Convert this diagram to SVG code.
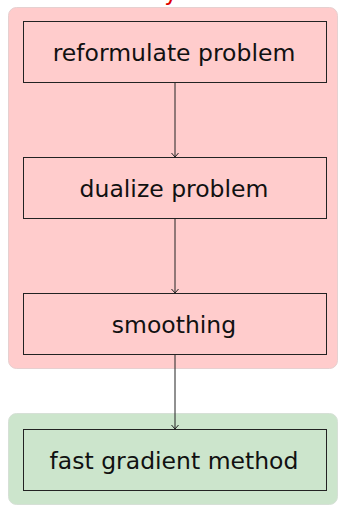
<svg xmlns="http://www.w3.org/2000/svg" width="339" height="505" viewBox="0 0 339 505">
<style>
.bg-red{fill:#ffcccc;stroke:#e6d0d0;stroke-width:1}
.bg-green{fill:#cce5cc;stroke:#d6e0d6;stroke-width:1}
.box{stroke:#222;stroke-width:1}
.lbl{font-family:"DejaVu Sans",sans-serif;font-size:23.5px;fill:#111;text-anchor:middle}
.edge{stroke:#222;stroke-width:1;fill:none}
</style>
<defs>
<marker id="arr" markerWidth="10" markerHeight="8" refX="5" refY="4" orient="auto" markerUnits="userSpaceOnUse" viewBox="0 0 10 8">
<path d="M1,0.5 L5,4 L1,7.5" fill="none" stroke="#222" stroke-width="1"/>
</marker>
</defs>
<text x="171" y="-0.5" font-family="DejaVu Sans,sans-serif" font-size="23" fill="#e00000" text-anchor="middle">y</text>
<g id="group-red"><rect class="bg-red" x="8.5" y="7.5" width="329" height="361" rx="8"/></g>
<g id="group-green"><rect class="bg-green" x="8.5" y="413.5" width="329" height="91" rx="8"/></g>
<g id="edges">
<line class="edge" x1="175" y1="82" x2="175" y2="157" marker-end="url(#arr)"/>
<line class="edge" x1="175" y1="218" x2="175" y2="293" marker-end="url(#arr)"/>
<line class="edge" x1="175" y1="354" x2="175" y2="429" marker-end="url(#arr)"/>
</g>
<g id="reformulate"><rect class="box" fill="#ffcccc" x="23.5" y="21.5" width="303" height="61"/><text class="lbl" x="174" y="60.5">reformulate problem</text></g>
<g id="dualize"><rect class="box" fill="#ffcccc" x="23.5" y="157.5" width="303" height="61"/><text class="lbl" x="174" y="196.5">dualize problem</text></g>
<g id="smoothing"><rect class="box" fill="#ffcccc" x="23.5" y="293.5" width="303" height="61"/><text class="lbl" x="174" y="332.5">smoothing</text></g>
<g id="fastgradient"><rect class="box" fill="#cce5cc" x="23.5" y="429.5" width="303" height="61"/><text class="lbl" x="174" y="468.5">fast gradient method</text></g>
</svg>
